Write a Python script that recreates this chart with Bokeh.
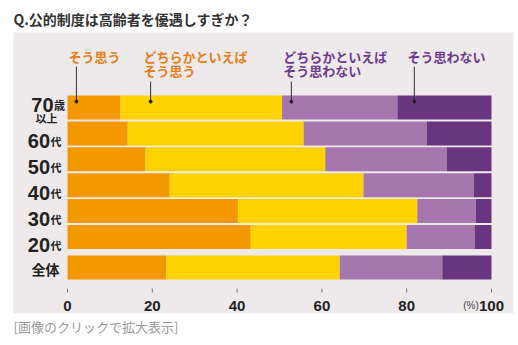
from bokeh.plotting import figure
from bokeh.models import ColumnDataSource, Range1d, Title
from bokeh.core.properties import value
from bokeh.embed import file_html
from bokeh.resources import INLINE

# ---- data ----
groups = ["70歳以上", "60代", "50代", "40代", "30代", "20代", "全体"]
num_part = ["70", "60", "50", "40", "30", "20", ""]
suffix_part = ["歳", "代", "代", "代", "代", "代", ""]
agree = [12.5, 14.2, 18.4, 24.1, 40.2, 43.2, 23.3]
somewhat_agree = [38.1, 41.5, 42.4, 45.7, 42.3, 36.8, 40.9]
somewhat_disagree = [27.2, 29.0, 28.6, 26.0, 13.8, 16.0, 24.2]
disagree = [22.2, 15.3, 10.6, 4.2, 3.7, 4.0, 11.6]
series = ["そう思う", "どちらかといえば\nそう思う", "どちらかといえば\nそう思わない", "そう思わない"]
colors = ["#F39800", "#FFD200", "#A676AF", "#6A357F"]
label_colors = ["#E5801A", "#E5801A", "#6C3B8C", "#6C3B8C"]
x_ticks = [0, 20, 40, 60, 80, 100]
title_text = "Q.公的制度は高齢者を優遇しすぎか？"
caption_text = "[画像のクリックで拡大表示]"

# row positions (全体 is separated by an extra gap)
ypos = [0, 1, 2, 3, 4, 5, 6.18]

DIGIT_FONT = value("Liberation Sans")

src = ColumnDataSource(dict(
    y=ypos, a=agree, b=somewhat_agree, c=somewhat_disagree, d=disagree,
))

p = figure(width=518, height=345, output_backend="svg", toolbar_location=None,
           x_range=Range1d(-12.736, 105.19), y_range=Range1d(7.953, -2.896),
           min_border_left=13, min_border_right=5, min_border_top=32,
           min_border_bottom=32)
p.background_fill_color = "#EEE9EA"
p.border_fill_color = "white"
p.outline_line_color = None
p.axis.visible = False
p.grid.visible = False

p.hbar_stack(["a", "b", "c", "d"], y="y", height=0.927, color=colors,
             source=src, line_color=None)

# y labels
row_idx = list(range(1, 6))
p.text(x=[-4.1] * 5, y=[ypos[i] + 0.29 for i in row_idx],
       text=[num_part[i] for i in row_idx], text_align="right",
       text_baseline="alphabetic", text_font=DIGIT_FONT,
       text_font_style="bold", text_font_size="20px", text_color="#222222")
p.text(x=[-4.0] * 5, y=[ypos[i] + 0.30 for i in row_idx],
       text=[suffix_part[i] for i in row_idx], text_align="left",
       text_baseline="alphabetic", text_font=value("Noto Sans CJK JP"),
       text_font_style="bold", text_font_size="11px", text_color="#222222")
# 70歳以上
p.text(x=[-3.3], y=[ypos[0] - 0.08], text=[num_part[0]], text_align="right",
       text_baseline="alphabetic", text_font=DIGIT_FONT,
       text_font_style="bold", text_font_size="20px", text_color="#222222")
p.text(x=[-3.2], y=[ypos[0] - 0.10], text=[suffix_part[0]], text_align="left",
       text_baseline="alphabetic", text_font=value("Noto Sans CJK JP"),
       text_font_style="bold", text_font_size="11px", text_color="#222222")
p.text(x=[-2.36], y=[ypos[0] + 0.40], text=["以上"], text_align="right",
       text_baseline="alphabetic", text_font=value("Noto Sans CJK JP"),
       text_font_style="bold", text_font_size="11px", text_color="#222222")
# 全体
p.text(x=[-1.9], y=[ypos[6] + 0.05], text=[groups[6]], text_align="right",
       text_baseline="middle", text_font=value("Noto Sans CJK JP"),
       text_font_style="bold", text_font_size="14px", text_color="#222222")

# series labels with leader lines
lab_x = [0.24, 17.9, 50.9, 80.2]
lead_x = [2.1, 19.6, 52.8, 81.8]
for i, s in enumerate(series):
    lines = s.split("\n")
    p.text(x=[lab_x[i]] * len(lines), y=[-1.97 + 0.56 * k for k in range(len(lines))],
           text=lines, text_align="left", text_baseline="middle",
           text_font=value("Noto Sans CJK JP"), text_font_style="bold",
           text_font_size="13px", text_color=label_colors[i])
    y0 = -1.58 if len(lines) == 1 else -1.0
    p.segment(x0=[lead_x[i]], y0=[y0], x1=[lead_x[i]], y1=[-0.23],
              line_color="#333333", line_width=1)
    p.scatter(x=[lead_x[i]], y=[-0.23], size=3, color="#222222")

# x ticks and labels
p.segment(x0=x_ticks, y0=[6.99] * len(x_ticks), x1=x_ticks, y1=[7.14] * len(x_ticks),
          line_color="#777777", line_width=1)
p.text(x=x_ticks, y=[7.68] * len(x_ticks), text=[str(t) for t in x_ticks],
       text_align="center", text_baseline="alphabetic", text_font=DIGIT_FONT,
       text_font_style="bold", text_font_size="15px", text_color="#222222")
p.text(x=[97.0], y=[7.66], text=["(%)"], text_align="right", text_baseline="alphabetic",
       text_font=value("Liberation Sans"), text_font_size="10px", text_color="#444444")

# title and caption
p.title.text = title_text
p.title.align = "left"
p.title.text_font = "Noto Sans CJK JP"
p.title.text_font_size = "14px"
p.title.text_font_style = "bold"
p.title.text_color = "#333333"
p.title.offset = 0
p.title.standoff = 8
p.add_layout(Title(text=caption_text, align="left", text_font="Noto Sans CJK JP",
                   text_font_size="13px", text_font_style="normal",
                   text_color="#999999", offset=0, standoff=2), "below")

open("out.html", "w").write(file_html(p, INLINE))
